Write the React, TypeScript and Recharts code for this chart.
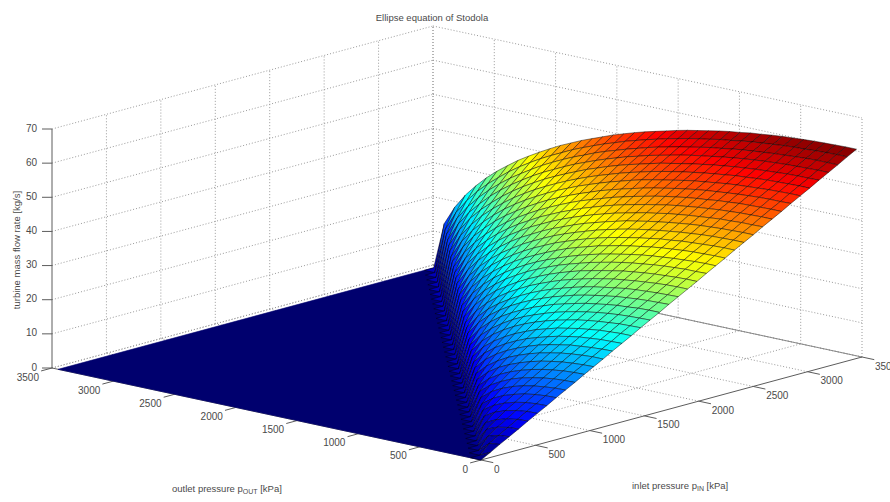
import { ScatterChart, Scatter, XAxis, YAxis, ReferenceLine } from "recharts";

const WIDTH = 890;
const HEIGHT = 502;

// MATLAB axis ticks
const pressureTicks = [0, 500, 1000, 1500, 2000, 2500, 3000, 3500];
const flowTicks = [0, 10, 20, 30, 40, 50, 60, 70];

const pressureStep = 86.25; // kPa between mesh lines, both directions
const pressureMax = 3450;

// turbine mass flow [kg/s]: row = inlet step 1..40,
// column = outlet step 0..inlet-1 (flow is 0 once outlet >= inlet)
const flowRows: number[][] = [
  [1.5],
  [3.1, 2.7],
  [4.6, 4.3, 3.4],
  [6.1, 5.9, 5.3, 4.1],
  [7.7, 7.5, 7.0, 6.1, 4.6],
  [9.2, 9.1, 8.7, 8.0, 6.9, 5.1],
  [10.7, 10.6, 10.3, 9.7, 8.8, 7.5, 5.5],
  [12.3, 12.2, 11.9, 11.4, 10.6, 9.6, 8.1, 5.9],
  [13.8, 13.7, 13.4, 13.0, 12.4, 11.5, 10.3, 8.7, 6.3],
  [15.3, 15.2, 15.0, 14.6, 14.0, 13.3, 12.3, 10.9, 9.2, 6.7],
  [16.9, 16.8, 16.6, 16.2, 15.7, 15.0, 14.1, 13.0, 11.6, 9.7, 7.0],
  [18.4, 18.3, 18.1, 17.8, 17.3, 16.7, 15.9, 14.9, 13.7, 12.2, 10.2, 7.4],
  [19.9, 19.9, 19.7, 19.4, 19.0, 18.4, 17.7, 16.8, 15.7, 14.4, 12.7, 10.6, 7.7],
  [21.5, 21.4, 21.2, 20.9, 20.6, 20.0, 19.4, 18.6, 17.6, 16.4, 15.0, 13.3, 11.1, 8.0],
  [23.0, 22.9, 22.8, 22.5, 22.2, 21.7, 21.1, 20.3, 19.4, 18.4, 17.1, 15.6, 13.8, 11.5, 8.3],
  [24.5, 24.5, 24.3, 24.1, 23.7, 23.3, 22.7, 22.1, 21.2, 20.3, 19.1, 17.8, 16.2, 14.3, 11.9, 8.5],
  [26.1, 26.0, 25.9, 25.6, 25.3, 24.9, 24.4, 23.7, 23.0, 22.1, 21.1, 19.9, 18.5, 16.8, 14.8, 12.3, 8.8],
  [27.6, 27.5, 27.4, 27.2, 26.9, 26.5, 26.0, 25.4, 24.7, 23.9, 22.9, 21.8, 20.6, 19.1, 17.3, 15.2, 12.6, 9.1],
  [29.1, 29.1, 29.0, 28.7, 28.5, 28.1, 27.6, 27.1, 26.4, 25.6, 24.8, 23.7, 22.6, 21.2, 19.7, 17.9, 15.7, 13.0, 9.3],
  [30.7, 30.6, 30.5, 30.3, 30.0, 29.7, 29.2, 28.7, 28.1, 27.4, 26.5, 25.6, 24.5, 23.3, 21.9, 20.3, 18.4, 16.2, 13.4, 9.6],
  [32.2, 32.1, 32.0, 31.8, 31.6, 31.3, 30.8, 30.3, 29.8, 29.1, 28.3, 27.4, 26.4, 25.3, 24.0, 22.5, 20.8, 18.9, 16.6, 13.7, 9.8],
  [33.7, 33.7, 33.6, 33.4, 33.1, 32.8, 32.4, 32.0, 31.4, 30.8, 30.0, 29.2, 28.3, 27.2, 26.0, 24.7, 23.1, 21.4, 19.4, 17.0, 14.0, 10.0],
  [35.2, 35.2, 35.1, 34.9, 34.7, 34.4, 34.0, 33.6, 33.0, 32.4, 31.7, 31.0, 30.1, 29.1, 28.0, 26.7, 25.3, 23.7, 21.9, 19.9, 17.4, 14.4, 10.3],
  [36.8, 36.7, 36.7, 36.5, 36.3, 36.0, 35.6, 35.2, 34.7, 34.1, 33.4, 32.7, 31.8, 30.9, 29.9, 28.7, 27.4, 26.0, 24.3, 22.5, 20.3, 17.8, 14.7, 10.5],
  [38.3, 38.3, 38.2, 38.0, 37.8, 37.5, 37.2, 36.8, 36.3, 35.7, 35.1, 34.4, 33.6, 32.7, 31.7, 30.6, 29.4, 28.1, 26.6, 24.9, 23.0, 20.8, 18.2, 15.0, 10.7],
  [39.8, 39.8, 39.7, 39.6, 39.4, 39.1, 38.8, 38.4, 37.9, 37.4, 36.8, 36.1, 35.4, 34.5, 33.6, 32.6, 31.4, 30.1, 28.7, 27.2, 25.5, 23.5, 21.2, 18.6, 15.3, 10.9],
  [41.4, 41.4, 41.3, 41.1, 40.9, 40.7, 40.3, 40.0, 39.5, 39.0, 38.4, 37.8, 37.1, 36.3, 35.4, 34.4, 33.3, 32.2, 30.8, 29.4, 27.8, 26.0, 24.0, 21.7, 19.0, 15.6, 11.2],
  [42.9, 42.9, 42.8, 42.7, 42.5, 42.2, 41.9, 41.5, 41.1, 40.6, 40.1, 39.5, 38.8, 38.0, 37.2, 36.2, 35.2, 34.1, 32.9, 31.5, 30.0, 28.4, 26.5, 24.5, 22.1, 19.3, 15.9, 11.4],
  [44.4, 44.4, 44.3, 44.2, 44.0, 43.8, 43.5, 43.1, 42.7, 42.2, 41.7, 41.1, 40.5, 39.7, 38.9, 38.0, 37.1, 36.0, 34.8, 33.6, 32.2, 30.6, 29.0, 27.1, 24.9, 22.5, 19.7, 16.2, 11.6],
  [46.0, 45.9, 45.9, 45.7, 45.6, 45.3, 45.0, 44.7, 44.3, 43.9, 43.3, 42.8, 42.1, 41.4, 40.7, 39.8, 38.9, 37.9, 36.8, 35.6, 34.3, 32.8, 31.3, 29.5, 27.6, 25.4, 22.9, 20.0, 16.5, 11.8],
  [47.5, 47.5, 47.4, 47.3, 47.1, 46.9, 46.6, 46.3, 45.9, 45.5, 45.0, 44.4, 43.8, 43.1, 42.4, 41.6, 40.7, 39.7, 38.7, 37.5, 36.3, 34.9, 33.5, 31.8, 30.1, 28.1, 25.9, 23.3, 20.4, 16.8, 12.0],
  [49.0, 49.0, 48.9, 48.8, 48.7, 48.4, 48.2, 47.8, 47.5, 47.1, 46.6, 46.1, 45.5, 44.8, 44.1, 43.3, 42.5, 41.5, 40.5, 39.5, 38.3, 37.0, 35.6, 34.1, 32.4, 30.6, 28.6, 26.3, 23.7, 20.7, 17.1, 12.2],
  [50.6, 50.5, 50.5, 50.4, 50.2, 50.0, 49.7, 49.4, 49.1, 48.7, 48.2, 47.7, 47.1, 46.5, 45.8, 45.0, 44.2, 43.3, 42.4, 41.3, 40.2, 39.0, 37.7, 36.3, 34.7, 33.0, 31.1, 29.1, 26.8, 24.1, 21.1, 17.3, 12.4],
  [52.1, 52.1, 52.0, 51.9, 51.7, 51.5, 51.3, 51.0, 50.6, 50.2, 49.8, 49.3, 48.7, 48.1, 47.5, 46.8, 46.0, 45.1, 44.2, 43.2, 42.1, 41.0, 39.7, 38.4, 36.9, 35.3, 33.6, 31.7, 29.6, 27.2, 24.5, 21.4, 17.6, 12.5],
  [53.6, 53.6, 53.5, 53.4, 53.3, 53.1, 52.8, 52.6, 52.2, 51.8, 51.4, 50.9, 50.4, 49.8, 49.2, 48.5, 47.7, 46.9, 46.0, 45.0, 44.0, 42.9, 41.7, 40.4, 39.0, 37.5, 35.9, 34.1, 32.2, 30.0, 27.6, 24.9, 21.7, 17.9, 12.7],
  [55.2, 55.1, 55.1, 55.0, 54.8, 54.6, 54.4, 54.1, 53.8, 53.4, 53.0, 52.5, 52.0, 51.4, 50.8, 50.2, 49.4, 48.6, 47.8, 46.9, 45.9, 44.8, 43.7, 42.4, 41.1, 39.7, 38.2, 36.5, 34.7, 32.7, 30.5, 28.0, 25.3, 22.1, 18.1, 12.9],
  [56.7, 56.7, 56.6, 56.5, 56.4, 56.2, 56.0, 55.7, 55.4, 55.0, 54.6, 54.1, 53.6, 53.1, 52.5, 51.8, 51.1, 50.4, 49.5, 48.7, 47.7, 46.7, 45.6, 44.4, 43.2, 41.8, 40.3, 38.8, 37.1, 35.2, 33.2, 31.0, 28.5, 25.6, 22.4, 18.4, 13.1],
  [58.2, 58.2, 58.2, 58.1, 57.9, 57.7, 57.5, 57.2, 56.9, 56.6, 56.2, 55.7, 55.3, 54.7, 54.1, 53.5, 52.8, 52.1, 51.3, 50.4, 49.5, 48.5, 47.5, 46.4, 45.1, 43.9, 42.5, 41.0, 39.4, 37.6, 35.7, 33.7, 31.4, 28.9, 26.0, 22.7, 18.7, 13.3],
  [59.8, 59.8, 59.7, 59.6, 59.4, 59.3, 59.1, 58.8, 58.5, 58.2, 57.8, 57.3, 56.9, 56.3, 55.8, 55.2, 54.5, 53.8, 53.0, 52.2, 51.3, 50.4, 49.3, 48.3, 47.1, 45.9, 44.6, 43.1, 41.6, 40.0, 38.2, 36.3, 34.2, 31.8, 29.3, 26.4, 23.0, 18.9, 13.4],
  [61.3, 61.3, 61.2, 61.1, 61.0, 60.8, 60.6, 60.4, 60.1, 59.7, 59.4, 58.9, 58.5, 58.0, 57.4, 56.8, 56.2, 55.5, 54.7, 53.9, 53.1, 52.2, 51.2, 50.2, 49.0, 47.8, 46.6, 45.2, 43.8, 42.2, 40.5, 38.7, 36.8, 34.6, 32.3, 29.7, 26.7, 23.3, 19.1, 13.6],
];

// view of the MATLAB axes, orthographic, pixels per unit
function project(pIn: number, pOut: number, flow: number) {
  return {
    x: 481 + (pIn / 3500) * 381 - (pOut / 3500) * 429,
    y: 460 - (pIn / 3500) * 103 - (pOut / 3500) * 92 - (flow / 70) * 239,
  };
}

function flowAt(i: number, j: number) {
  if (i === 0 || j >= i) return 0;
  return flowRows[i - 1][j];
}

function jet(t: number) {
  const c = (v: number) => Math.round(255 * Math.max(0, Math.min(1, v)));
  const r = c(1.5 - Math.abs(4 * t - 3));
  const g = c(1.5 - Math.abs(4 * t - 2));
  const b = c(1.5 - Math.abs(4 * t - 1));
  return `rgb(${r},${g},${b})`;
}

interface MeshCell {
  x: number;
  y: number;
  corners: { x: number; y: number }[];
  fill: string;
  edge: string;
  depth: number;
}

function cellFrom(vertices: [number, number, number][], fill: string, edge: string, depth: number): MeshCell {
  const corners = vertices.map(([a, b, c]) => project(a, b, c));
  const x = corners.reduce((s, c) => s + c.x, 0) / corners.length;
  const y = corners.reduce((s, c) => s + c.y, 0) / corners.length;
  return { x, y, corners, fill, edge, depth };
}

function buildCells(): MeshCell[] {
  const cells: MeshCell[] = [];
  flowRows.forEach((row, r) => {
    const i = r + 1;
    row.forEach((_, j) => {
      const idx: [number, number][] = [[i, j], [i - 1, j], [i - 1, j + 1], [i, j + 1]];
      const vertices = idx.map(([a, b]) => [a * pressureStep, b * pressureStep, flowAt(a, b)] as [number, number, number]);
      const mean = vertices.reduce((s, v) => s + v[2], 0) / 4;
      cells.push(cellFrom(vertices, jet(mean / 61.3), "rgba(0,0,0,0.75)", i + j));
    });
  });
  return cells.sort((a, b) => b.depth - a.depth);
}

// flat part, outlet above inlet
const floorCell = cellFrom(
  [
    [0, 0, 0],
    [pressureMax, pressureMax, 0],
    [0, pressureMax, 0],
  ],
  "#00006e",
  "#00006e",
  99
);

const cells = [floorCell, ...buildCells()];

function CellShape(props: any) {
  const { cx, cy, payload } = props;
  const pts = payload.corners
    .map((c: { x: number; y: number }) => `${cx + c.x - payload.x},${cy + c.y - payload.y}`)
    .join(" ");
  return <polygon points={pts} fill={payload.fill} stroke={payload.edge} strokeWidth={0.6} strokeLinejoin="round" />;
}

const TEXT = "#4a4a4a";
const FONT = "'Liberation Sans', Arial, sans-serif";

function TickLabel(props: any) {
  const { cx, cy, payload } = props;
  return (
    <text x={cx + payload.dx} y={cy + payload.dy} textAnchor={payload.anchor} dominantBaseline="central" fontSize={10} fontFamily={FONT} fill={TEXT}>
      {payload.label}
    </text>
  );
}

const pInLabels = pressureTicks.map((p) => ({ ...project(p, 0, 0), label: String(p), dx: 13, dy: 9, anchor: "start" }));
const pOutLabels = pressureTicks.map((p) => ({ ...project(0, p, 0), label: String(p), dx: -13, dy: 9, anchor: "end" }));
const flowLabels = flowTicks.map((f) => ({ ...project(0, 3500, f), label: String(f), dx: -15, dy: -1, anchor: "end" }));

type Pt = { x: number; y: number };
const grid = { stroke: "#9a9a9a", strokeWidth: 1, strokeDasharray: "1 2" };
const axis = { stroke: "#5c5c5c", strokeWidth: 1 };

function Seg({ a, b, style }: { a: Pt; b: Pt; style: any }) {
  return <ReferenceLine segment={[a, b]} {...style} />;
}

function segments() {
  const out: { a: Pt; b: Pt; style: any }[] = [];
  flowTicks.forEach((f) => {
    out.push({ a: project(0, 3500, f), b: project(3500, 3500, f), style: grid });
    out.push({ a: project(3500, 3500, f), b: project(3500, 0, f), style: grid });
  });
  pressureTicks.slice(1).forEach((p) => {
    out.push({ a: project(p, 3500, 0), b: project(p, 3500, 70), style: grid });
    out.push({ a: project(3500, p, 0), b: project(3500, p, 70), style: grid });
    out.push({ a: project(p, 0, 0), b: project(p, 3500, 0), style: grid });
    out.push({ a: project(0, p, 0), b: project(3500, p, 0), style: grid });
  });
  out.push({ a: project(3500, 0, 0), b: project(3500, 0, 70), style: grid });
  out.push({ a: project(3500, 3500, 0), b: project(3500, 0, 0), style: { stroke: "#8a8a8a", strokeWidth: 1 } });
  out.push({ a: project(0, 0, 0), b: project(3500, 0, 0), style: axis });
  out.push({ a: project(0, 0, 0), b: project(0, 3500, 0), style: axis });
  out.push({ a: project(0, 3500, 0), b: project(0, 3500, 70), style: axis });
  pressureTicks.forEach((p) => {
    out.push({ a: project(p, 0, 0), b: project(p, -100, 0), style: axis });
    out.push({ a: project(0, p, 0), b: project(-100, p, 0), style: axis });
  });
  flowTicks.forEach((f) => {
    const s = project(0, 3500, f);
    out.push({ a: s, b: { x: s.x - 10, y: s.y }, style: axis });
  });
  return out;
}

export default function App() {
  return (
    <div style={{ position: "absolute", left: 0, top: 0, width: WIDTH, height: HEIGHT, background: "#fff" }}>
      <ScatterChart width={WIDTH} height={HEIGHT} margin={{ top: 0, right: 0, bottom: 0, left: 0 }}>
        <XAxis type="number" dataKey="x" domain={[0, WIDTH]} hide />
        <YAxis type="number" dataKey="y" domain={[0, HEIGHT]} reversed hide />
        {segments().map((s, i) => (
          <ReferenceLine key={i} segment={[s.a, s.b]} {...s.style} />
        ))}
        <Scatter data={cells} shape={CellShape} isAnimationActive={false} />
        <Scatter data={pInLabels} shape={TickLabel} isAnimationActive={false} />
        <Scatter data={pOutLabels} shape={TickLabel} isAnimationActive={false} />
        <Scatter data={flowLabels} shape={TickLabel} isAnimationActive={false} />
        <text x={432} y={17} textAnchor="middle" dominantBaseline="central" fontSize={9.5} fontFamily={FONT} fill={TEXT}>
          Ellipse equation of Stodola
        </text>
        <text x={172} y={492} fontSize={9.5} fontFamily={FONT} fill={TEXT}>
          outlet pressure p<tspan fontSize={7} dy={2}>OUT</tspan><tspan dy={-2}> [kPa]</tspan>
        </text>
        <text x={632} y={489} fontSize={9.5} fontFamily={FONT} fill={TEXT}>
          inlet pressure p<tspan fontSize={7} dy={2}>IN</tspan><tspan dy={-2}> [kPa]</tspan>
        </text>
        <text x={0} y={0} transform="translate(20,250) rotate(-90)" textAnchor="middle" fontSize={9.5} fontFamily={FONT} fill={TEXT}>
          turbine mass flow rate [kg/s]
        </text>
      </ScatterChart>
    </div>
  );
}
